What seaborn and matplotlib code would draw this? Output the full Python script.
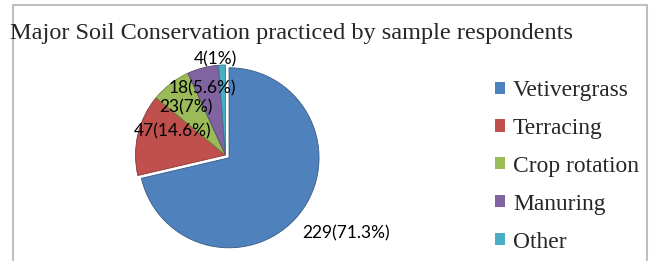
import numpy as np
import matplotlib
matplotlib.use("Agg")
import matplotlib.pyplot as plt
import seaborn as sns
from matplotlib.patches import Rectangle
from matplotlib.colors import to_rgb

# data
practices = ["Vetivergrass", "Terracing", "Crop rotation", "Manuring", "Other"]
counts = [229, 47, 23, 18, 4]
label_texts = ["229(71.3%)", "47(14.6%)", "23(7%)", "18(5.6%)", "4(1%)"]
colors = ["#4F81BD", "#C0504D", "#9BBB59", "#8064A2", "#4BACC6"]

sns.set_theme(style="white")
plt.rcParams["font.family"] = ["Liberation Serif", "DejaVu Serif"]

W, H = 650, 261
fig = plt.figure(figsize=(W / 100, H / 100), dpi=100)

# pie centre ~ (225.5,155) px, radius ~ 90 px
R = 90
cx, cy = 225.5, H - 155
lim = 1.35
side = 2 * lim * R
ax = fig.add_axes([(cx - side / 2) / W, (cy - side / 2) / H, side / W, side / H])

edge_cols = [tuple(0.7 * v for v in to_rgb(c)) for c in colors]
wedges, _ = ax.pie(counts, colors=colors, startangle=90, counterclock=False,
                   explode=[0.05, 0, 0, 0, 0],
                   wedgeprops=dict(linewidth=0.6))
for w, ec in zip(wedges, edge_cols):
    w.set_edgecolor(ec)
ax.set_xlim(-lim, lim)
ax.set_ylim(-lim, lim)
ax.set_aspect("equal")
ax.axis("off")

# data labels: radial distance and angle shift from each wedge's middle
dist = [1.6, 0.64, 0.69, 0.78, 1.07]
shift = [5.4, -10.7, 1.8, 5.0, 4.0]
for w, txt, d, s in zip(wedges, label_texts, dist, shift):
    ang = np.deg2rad((w.theta1 + w.theta2) / 2 + s)
    ax.text(d * np.cos(ang), d * np.sin(ang), txt, ha="center", va="center",
            fontsize=12.5, family=["Lato", "DejaVu Sans"], color="black")

fig.text(10 / W, 1 - 33 / H, "Major Soil Conservation practiced by sample respondents",
         fontsize=17.5, ha="left", va="center")

handles = [Rectangle((0, 0), 1, 1, facecolor=c, edgecolor="none") for c in colors]
fig.legend(handles, practices, loc="upper left", bbox_to_anchor=(495 / W, 1 - 80 / H),
           frameon=False, fontsize=16.9, handlelength=0.42, handleheight=0.42,
           handletextpad=0.35, labelspacing=0.72, borderaxespad=0, borderpad=0)

# chart frame
fig.add_artist(Rectangle((12.5 / W, -0.1), (647 - 12.5) / W, 1.1 - 5 / H,
                         transform=fig.transFigure, fill=False,
                         edgecolor="#BFBFBF", linewidth=1.5))

fig.savefig("out.png", dpi=100)
